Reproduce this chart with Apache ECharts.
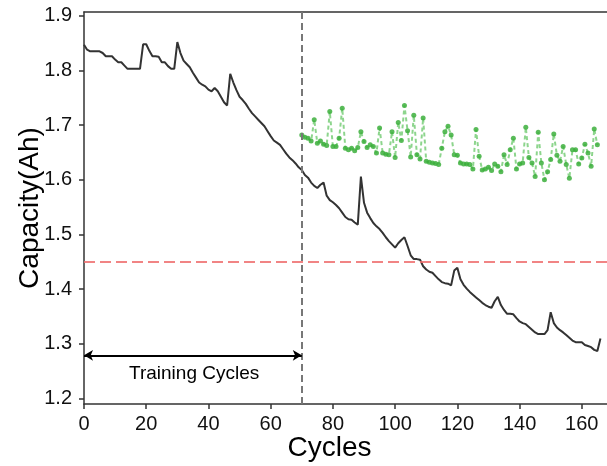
<!DOCTYPE html>
<html>
<head>
<meta charset="utf-8">
<script src="https://cdn.jsdelivr.net/npm/echarts@6/dist/echarts.min.js"></script>
<style>
  html, body { margin: 0; padding: 0; background: #fff; }
  #chart { width: 607px; height: 466px; }
</style>
</head>
<body>
<div id="chart"></div>
<script>
// Measured capacity, one value per cycle starting at cycle 0
const measuredCapacity = [
  1.847, 1.838, 1.835, 1.835, 1.835, 1.835, 1.832, 1.826, 1.826, 1.826,
  1.820, 1.815, 1.815, 1.809, 1.803, 1.803, 1.803, 1.803, 1.803, 1.848,
  1.848, 1.836, 1.826, 1.826, 1.825, 1.815, 1.815, 1.808, 1.803, 1.803,
  1.852, 1.832, 1.818, 1.812, 1.806, 1.796, 1.787, 1.778, 1.774, 1.771,
  1.765, 1.762, 1.768, 1.762, 1.752, 1.742, 1.736, 1.794, 1.778, 1.764,
  1.752, 1.746, 1.739, 1.730, 1.722, 1.716, 1.710, 1.704, 1.698, 1.689,
  1.680, 1.672, 1.668, 1.664, 1.656, 1.648, 1.641, 1.636, 1.630, 1.623,
  1.618, 1.609, 1.604, 1.595, 1.589, 1.585, 1.591, 1.595, 1.571, 1.563,
  1.559, 1.554, 1.548, 1.540, 1.532, 1.528, 1.527, 1.522, 1.518, 1.606,
  1.558, 1.540, 1.530, 1.521, 1.515, 1.510, 1.503, 1.495, 1.488, 1.482,
  1.476, 1.484, 1.490, 1.495, 1.479, 1.462, 1.455, 1.455, 1.454, 1.442,
  1.436, 1.432, 1.430, 1.424, 1.418, 1.413, 1.411, 1.410, 1.407, 1.434,
  1.439, 1.418, 1.408, 1.401, 1.395, 1.390, 1.385, 1.380, 1.375, 1.371,
  1.368, 1.366, 1.378, 1.386, 1.371, 1.362, 1.355, 1.355, 1.354, 1.347,
  1.341, 1.338, 1.336, 1.331, 1.326, 1.321, 1.318, 1.318, 1.318, 1.325,
  1.358, 1.338, 1.330, 1.325, 1.321, 1.316, 1.311, 1.306, 1.303, 1.303,
  1.303, 1.298, 1.296, 1.294, 1.289, 1.287, 1.310
];

// Predicted capacity, one value per cycle starting at predictionStart
const predictionStart = 70;
const predictedCapacity = [
  1.682, 1.678, 1.676, 1.671, 1.710, 1.667, 1.671, 1.665, 1.663, 1.725,
  1.661, 1.661, 1.676, 1.731, 1.658, 1.655, 1.658, 1.653, 1.659, 1.688,
  1.670, 1.659, 1.664, 1.661, 1.649, 1.695, 1.649, 1.647, 1.646, 1.688,
  1.641, 1.705, 1.672, 1.736, 1.690, 1.642, 1.718, 1.646, 1.638, 1.713,
  1.634, 1.632, 1.631, 1.630, 1.628, 1.658, 1.688, 1.698, 1.682, 1.646,
  1.645, 1.631, 1.629, 1.629, 1.628, 1.620, 1.692, 1.643, 1.618, 1.620,
  1.623, 1.617, 1.629, 1.625, 1.615, 1.646, 1.628, 1.655, 1.676, 1.620,
  1.629, 1.631, 1.696, 1.641, 1.631, 1.606, 1.687, 1.631, 1.600, 1.615,
  1.637, 1.684, 1.645, 1.634, 1.661, 1.628, 1.603, 1.655, 1.655, 1.629,
  1.640, 1.665, 1.649, 1.625, 1.693, 1.664
];

// Reference levels and annotations
const failureThreshold = 1.45;
const trainingEnd = 70;
const arrowLevel = 1.279;
const trainingLabel = 'Training Cycles';
const trainingLabelPos = [35.4, 1.246];

// Axis ticks
const xTicks = [0, 20, 40, 60, 80, 100, 120, 140, 160];
const yTicks = [1.2, 1.3, 1.4, 1.5, 1.6, 1.7, 1.8, 1.9];
const xRange = [0, 168.1];
const yRange = [1.19, 1.907];

const measuredData = measuredCapacity.map((v, i) => [i, v]);
const predictedData = predictedCapacity.map((v, i) => [predictionStart + i, v]);

const FONT = '"Liberation Sans", Arial, sans-serif';
const AXIS_COLOR = '#333';

const chart = echarts.init(document.getElementById('chart'), null, { renderer: 'canvas' });

chart.setOption({
  animation: false,
  backgroundColor: '#fff',
  grid: { left: 84, right: 0, top: 12, bottom: 62, containLabel: false, outerBoundsMode: 'none' },
  xAxis: [
    {
      type: 'value',
      min: xRange[0],
      max: xRange[1],
      name: 'Cycles',
      nameLocation: 'middle',
      nameGap: 30,
      nameMoveOverlap: false,
      nameTextStyle: { fontFamily: FONT, fontSize: 28, color: '#000', padding: [0, 32, 0, 0] },
      axisLine: { show: true, lineStyle: { color: AXIS_COLOR, width: 1.5 } },
      axisTick: { show: true, length: 5, customValues: xTicks, lineStyle: { color: AXIS_COLOR, width: 1.5 } },
      axisLabel: { customValues: xTicks, fontFamily: FONT, fontSize: 20, color: '#111', margin: 10 },
      splitLine: { show: false }
    },
    {
      type: 'value',
      position: 'top',
      min: xRange[0],
      max: xRange[1],
      axisLine: { show: true, onZero: false, lineStyle: { color: AXIS_COLOR, width: 1.5 } },
      axisTick: { show: false },
      axisLabel: { show: false },
      splitLine: { show: false }
    }
  ],
  yAxis: {
    type: 'value',
    min: yRange[0],
    max: yRange[1],
    name: 'Capacity(Ah)',
    nameLocation: 'middle',
    nameGap: 40,
    nameMoveOverlap: false,
    nameTextStyle: { fontFamily: FONT, fontSize: 28, color: '#000' },
    axisLine: { show: true, lineStyle: { color: AXIS_COLOR, width: 1.5 } },
    axisTick: { show: true, length: 5, customValues: yTicks, lineStyle: { color: AXIS_COLOR, width: 1.5 } },
    axisLabel: {
      customValues: yTicks, fontFamily: FONT, fontSize: 20, color: '#111', margin: 12,
      formatter: v => v.toFixed(1)
    },
    splitLine: { show: false }
  },
  series: [
    {
      name: 'Measured',
      type: 'line',
      data: measuredData,
      symbol: 'none',
      lineStyle: { color: '#333', width: 2 },
      z: 3,
      markLine: {
        silent: true,
        symbol: 'none',
        label: { show: false },
        data: [
          { yAxis: failureThreshold, lineStyle: { color: 'rgba(238,110,110,0.85)', width: 2, type: [11, 5] } },
          { xAxis: trainingEnd, lineStyle: { color: '#777', width: 2, type: [7, 4] } },
          [
            { coord: [0, arrowLevel], symbol: 'arrow' },
            { coord: [trainingEnd, arrowLevel], symbol: 'arrow' }
          ]
        ],
        symbolSize: [8, 9],
        lineStyle: { color: '#000', width: 2, type: 'solid' }
      },
      markPoint: {
        silent: true,
        symbol: 'circle',
        symbolSize: 0,
        data: [{ coord: trainingLabelPos }],
        label: {
          show: true,
          position: 'inside',
          formatter: trainingLabel,
          fontFamily: FONT,
          fontSize: 19,
          color: '#000'
        }
      }
    },
    {
      name: 'Predicted',
      type: 'line',
      data: predictedData,
      symbol: 'circle',
      symbolSize: 5,
      showSymbol: true,
      itemStyle: { color: 'rgba(60,175,60,0.85)', borderWidth: 0 },
      lineStyle: { color: 'rgba(80,190,80,0.65)', width: 2, type: [4, 3] },
      z: 4
    }
  ]
});
</script>
</body>
</html>
